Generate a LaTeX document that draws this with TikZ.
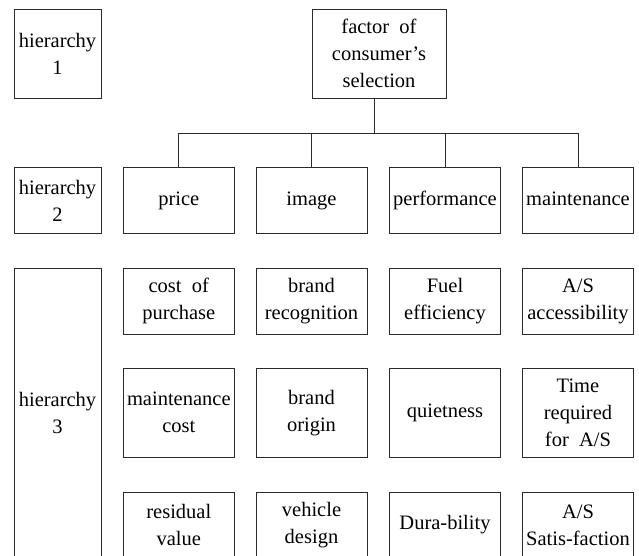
\documentclass[tikz,border=0pt]{standalone}
\usepackage{fontspec}
\setmainfont{Liberation Serif}
\usetikzlibrary{calc,positioning}
\definecolor{ChartLine}{HTML}{2B2B2B}

\begin{document}
\begin{tikzpicture}[x=1pt,y=-1pt,
    box/.style={draw=ChartLine,line width=0.8pt,rectangle,align=center,
      inner sep=0pt,minimum width=111pt,minimum height=66pt,
      font=\fontsize{20.5}{27}\selectfont},
    tallbox/.style={box,minimum height=89pt},
    levelbox/.style={box,minimum width=87pt},
    oneline/.style={text height=14pt,text depth=4.5pt}]
  \useasboundingbox (0,0) rectangle (639,555);
  \clip (0,0) rectangle (639,555);

  % hierarchy labels
  \node[levelbox,minimum height=89pt] (h1) at (57.5,53.5) {hierarchy\\1};
  \node[levelbox] (h2) at (57.5,200.5) {hierarchy\\2};
  \node[levelbox,minimum height=290pt] (h3) at (57.5,413) {hierarchy\\3};

  % top
  \node[box,minimum width=134pt,minimum height=89pt] (top) at (379,53.5)
    {factor\ \ of\\consumer's\\selection};

  % hierarchy 2
  \node[box,oneline] (price) at (178.8,200.5) {price};
  \node[box,oneline] (image) at (311.5,200.5) {image};
  \node[box,oneline] (perf)  at (445,200.5)   {performance};
  \node[box,oneline] (maint) at (578,200.5)   {maintenance};

  \foreach \n in {price,image,perf,maint}
    \draw[ChartLine,line width=0.8pt] ([xshift=-4.5pt]top.south) -- ++(0,35) -| (\n.north);

  % hierarchy 3
  \node[box] (cost) at (178.8,301) {cost\ \ of\\purchase};
  \node[box] (recog) at (311.5,301) {brand\\recognition};
  \node[box] (fuel) at (445,301) {Fuel\\efficiency};
  \node[box] (access) at (578,301) {A/S\\accessibility};

  \node[tallbox] (mcost) at (178.8,412.7) {maintenance\\cost};
  \node[tallbox] (origin) at (311.5,412.7) {brand\\origin};
  \node[tallbox,oneline] (quiet) at (445,412.7) {quietness};
  \node[tallbox] (time) at (578,412.7) {Time\\required\\for\ \ A/S};

  \node[box] (resid) at (178.8,525) {residual\\value};
  \node[box] (design) at (311.5,525) {vehicle\\design};
  \node[box,oneline] (dura) at (445,525) {Dura-bility};
  \node[box] (satis) at (578,525) {A/S\\Satis-faction};
\end{tikzpicture}
\end{document}
